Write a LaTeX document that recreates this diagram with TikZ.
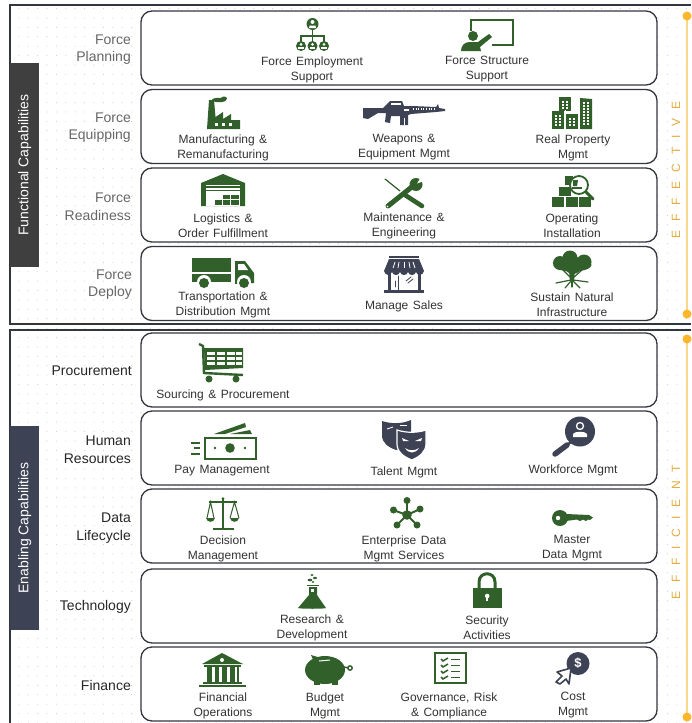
\documentclass[tikz,border=0pt]{standalone}
\usepackage{fontspec}
\setmainfont{Liberation Sans}
\usetikzlibrary{patterns.meta}
\definecolor{capgreen}{HTML}{31602B}
\definecolor{capslate}{HTML}{3D4354}
\definecolor{capbar}{HTML}{3F3F3F}
\definecolor{capline}{HTML}{33363E}
\definecolor{capgold}{HTML}{FBB62C}
\definecolor{capgoldtext}{HTML}{E3AC3E}
\definecolor{capgoldline}{HTML}{FAD78F}
\tikzset{
  capbox/.style={draw=capline, line width=1.3pt, rounded corners=11pt, fill=white, minimum width=516pt, minimum height=74pt, inner sep=0pt},
  caplabel/.style={font=\fontsize{12}{15}\selectfont, align=center, text=black!80, inner sep=0pt, yshift=-1pt, execute at begin node={\spaceskip=4.5pt\relax}},
  toprow/.style={font=\fontsize{14}{17.5}\selectfont, align=right, anchor=east, text=black!60, inner sep=0pt, yshift=-1.2pt},
  lowrow/.style={toprow, text=black!85},
  sidebar/.style={minimum width=29pt, minimum height=204pt, inner sep=0pt, text=white, font=\fontsize{14}{17}\selectfont},
  sideword/.style={rotate=90, text=capgoldtext, font=\fontsize{12}{13}\selectfont, inner sep=0pt},
  golddot/.style={circle, fill=capgold, minimum size=9pt, inner sep=0pt},
  grn/.style={fill=capgreen, draw=none},
  slt/.style={fill=capslate, draw=none},
  gline/.style={draw=capgreen, line cap=round},
  sline/.style={draw=capslate, line cap=round},
  wht/.style={fill=white, draw=none},
  wline/.style={draw=white}
}
\newcommand{\capperson}[3]{
  \fill[#3] (#1,#2) circle (5);
  \fill[white] (#1,#2-1.6) circle (1.5);
  \fill[white] (#1-2.6,#2+2.6) rectangle (#1+2.6,#2+0.6);
}
\begin{document}
\begin{tikzpicture}[x=1pt,y=-1pt]
  \useasboundingbox (0,0) rectangle (691,723);

  % backdrop and the two frames
  \fill[pattern={Dots[distance=9.4pt,radius=0.55pt]}, pattern color=black!20] (10,5) rectangle (691,723);
  \draw[capline, line width=1.6pt] (691,5) -- (10,5) -- (10,324) -- (691,324);
  \draw[capline, line width=1.6pt] (691,330) -- (10,330) -- (10,723);

  % side bars
  \node[sidebar, fill=capbar, anchor=north west] (functionalbar) at (10,63) {};
  \node[rotate=90, text=white, font=\fontsize{14}{17}\selectfont, inner sep=0pt] (functionaltext) at (functionalbar.center) {Functional Capabilities};
  \node[sidebar, fill=capslate, anchor=north west] (enablingbar) at (10,426) {};
  \node[rotate=90, text=white, font=\fontsize{14}{17}\selectfont, inner sep=0pt] (enablingtext) at (enablingbar.center) {Enabling Capabilities};

  % capability boxes
  \node[capbox] (planbox) at (399,48) {};
  \node[capbox] (equipbox) at (399,126.5) {};
  \node[capbox] (readybox) at (399,205) {};
  \node[capbox] (deploybox) at (399,283.5) {};
  \node[capbox] (procurebox) at (399,370) {};
  \node[capbox] (humanbox) at (399,448) {};
  \node[capbox] (databox) at (399,526) {};
  \node[capbox] (techbox) at (399,606) {};
  \node[capbox] (financebox) at (399,684) {};

  % row names
  \node[toprow] (planname) at (131,48.5) {Force\\Planning};
  \node[toprow] (equipname) at (131,126.5) {Force\\Equipping};
  \node[toprow] (readyname) at (131,205.5) {Force\\Readiness};
  \node[toprow] (deployname) at (132,283.5) {Force\\Deploy};
  \node[lowrow] (procurename) at (132,370) {Procurement};
  \node[lowrow] (humanname) at (131,448.5) {Human\\Resources};
  \node[lowrow] (dataname) at (131,527) {Data\\Lifecycle};
  \node[lowrow] (techname) at (131,605.5) {Technology};
  \node[lowrow] (financename) at (131,684) {Finance};

  % gold rails
  \draw[capgoldline, line width=1.2pt] (687,16) -- (687,314);
  \draw[capgoldline, line width=1.2pt] (687,339) -- (687,717);
  \node[golddot] (goldtopa) at (687,16) {};
  \node[golddot] (goldbota) at (687,314) {};
  \node[golddot] (goldtopb) at (687,339) {};
  \node[golddot] (goldbotb) at (687,717) {};
  \node[sideword] (effective) at (676,170) {\spaceskip=8.8pt E F F E C T I V E};
  \node[sideword] (efficient) at (676,532) {\spaceskip=9pt E F F I C I E N T};

  % texts of the capabilities
  \node[caplabel] (employtext) at (312,68.5) {Force Employment\\Support};
  \node[caplabel] (structtext) at (487,68.5) {Force Structure\\Support};
  \node[caplabel] (manutext) at (223,146.5) {Manufacturing \&\\Remanufacturing};
  \node[caplabel] (weapontext) at (404,146.5) {Weapons \&\\Equipment Mgmt};
  \node[caplabel] (realtext) at (573,146.5) {Real Property\\Mgmt};
  \node[caplabel] (logistext) at (223,225) {Logistics \&\\Order Fulfillment};
  \node[caplabel] (mainttext) at (404,225) {Maintenance \&\\Engineering};
  \node[caplabel] (opertext) at (572,225) {Operating\\Installation};
  \node[caplabel] (transtext) at (223,304) {Transportation \&\\Distribution Mgmt};
  \node[caplabel] (salestext) at (404,305.5) {Manage Sales};
  \node[caplabel] (naturetext) at (572,304) {Sustain Natural\\Infrastructure};
  \node[caplabel] (sourcetext) at (223,394.5) {Sourcing \& Procurement};
  \node[caplabel] (paytext) at (222,470) {Pay Management};
  \node[caplabel] (talenttext) at (404,471) {Talent Mgmt};
  \node[caplabel] (forcetext) at (573,469.5) {Workforce Mgmt};
  \node[caplabel] (decisiontext) at (223,547.5) {Decision\\Management};
  \node[caplabel] (entertext) at (404,547.5) {Enterprise Data\\Mgmt Services};
  \node[caplabel] (mastertext) at (572,547.5) {Master\\Data Mgmt};
  \node[caplabel] (researchtext) at (312,626.5) {Research \&\\Development};
  \node[caplabel] (securetext) at (487,626.5) {Security\\Activities};
  \node[caplabel] (fintext) at (223,704.5) {Financial\\Operations};
  \node[caplabel] (budgettext) at (325,704.5) {Budget\\Mgmt};
  \node[caplabel] (govtext) at (449,704.5) {Governance, Risk\\\& Compliance};
  \node[caplabel] (costtext) at (573,704.5) {Cost\\Mgmt};

  % org chart
  \begin{scope}[shift={(296,18)}]
  \fill[grn] (16.5,6) circle (6);
  \fill[white] (16.5,4) circle (2);
  \fill[white] (13,10) -- (13.5,7.5) -- (19.5,7.5) -- (20,10) -- cycle;
  \draw[gline, line width=1.5pt] (16.5,12) -- (16.5,24);
  \draw[gline, line width=1.5pt] (5,23) -- (5,18) -- (28,18) -- (28,23);
  \capperson{5}{28}{capgreen}
  \capperson{16.5}{28}{capgreen}
  \capperson{28}{28}{capgreen}
  \end{scope}

  % board with speaker
  \begin{scope}[shift={(470,19)}]
  \draw[gline, line width=2.8pt, line cap=butt] (1,12) -- (1,1) -- (43,1) -- (43,26) -- (22,26);
  \fill[grn] (3,17) circle (5);
  \fill[grn] (-9,32) .. controls (-9,26) and (-5,23) .. (0,23) -- (8,23) -- (19,15) -- (22,18) -- (10,28) -- (11,32) -- cycle;
  \end{scope}

  % factory
  \begin{scope}[shift={(207,98)}]
  \fill[grn] (0,31) -- (2,2) -- (7,2) -- (8.5,19) -- (16,14) -- (16,21) -- (24,16) -- (24,22) -- (33,22) -- (33,31) -- cycle;
  \fill[grn] (12,2) ellipse (7 and 2.2);
  \fill[grn] (17,0.5) ellipse (3 and 2);
  \draw[white, line width=2.4pt, dash pattern=on 3pt off 4pt] (8,26.5) -- (28,26.5);
  \end{scope}

  % rifle
  \begin{scope}[shift={(363,101)}]
  \fill[slt] (0,7) -- (20,7) -- (24,3) -- (27,0) -- (39,0) -- (41,5) -- (49,5) -- (73,6) -- (75,3) -- (76,7) -- (82,8) -- (82,10) -- (73,11) -- (48,13) -- (45,14) -- (45,24) -- (37,24) -- (37,15) -- (28,15) -- (27,22) -- (22,21) -- (23,12) -- (15,12) -- (5,18) -- (0,17) -- cycle;
  \fill[white] (28,2) rectangle (38,4);
  \draw[white, line width=1.6pt, dash pattern=on 1pt off 1.6pt] (50,8) -- (72,8);
  \draw[white, line width=0.6pt] (41,17) -- (41,24);
  \fill[white] (41,8) rectangle (46,10);
  \end{scope}

  % city blocks
  \begin{scope}[shift={(552,97)}]
  \fill[grn] (7,0) rectangle (19,14);
  \fill[grn] (0,14) rectangle (12,32);
  \fill[grn] (14,17) rectangle (26,32);
  \draw[white, line width=1pt] (13,13) -- (13,32);
  \draw[white, line width=1pt] (12,16.5) -- (27,16.5);
  \fill[grn] (28,1) -- (40,2) -- (40,32) -- (28,32) -- cycle;
  \draw[white, line width=1.5pt, dash pattern=on 1.5pt off 1.5pt] (11,4) -- (11,12);
  \draw[white, line width=1.5pt, dash pattern=on 1.5pt off 1.5pt] (15,4) -- (15,12);
  \draw[white, line width=1.5pt, dash pattern=on 1.5pt off 1.5pt] (4,18) -- (4,29);
  \draw[white, line width=1.5pt, dash pattern=on 1.5pt off 1.5pt] (8,18) -- (8,29);
  \draw[white, line width=1.5pt, dash pattern=on 1.5pt off 1.5pt] (18,21) -- (18,29);
  \draw[white, line width=1.5pt, dash pattern=on 1.5pt off 1.5pt] (22,21) -- (22,29);
  \draw[white, line width=1.5pt, dash pattern=on 1.5pt off 1.5pt] (32,5) -- (32,29);
  \draw[white, line width=1.5pt, dash pattern=on 1.5pt off 1.5pt] (36,5) -- (36,29);
  \end{scope}

  % warehouse
  \begin{scope}[shift={(201,174)}]
  \fill[grn] (0,9) -- (22,0) -- (44,9) -- (44,32) -- (0,32) -- cycle;
  \fill[white] (5,11) rectangle (39,32);
  \fill[grn] (5,12) rectangle (39,13.5);
  \fill[grn] (5,16) rectangle (39,17);
  \fill[grn] (14,26) rectangle (21,31);
  \fill[grn] (22,26) rectangle (29,31);
  \fill[grn] (30,26) rectangle (38,31);
  \fill[grn] (22,21) rectangle (29,25);
  \fill[grn] (30,21) rectangle (38,25);
  \end{scope}

  % wrench and screwdriver
  \begin{scope}[shift={(385,178)}]
  \draw[gline, line width=1.2pt] (0,1) -- (20,17);
  \draw[gline, line width=4.6pt] (20,17) -- (37,28);
  \draw[wline, line width=6pt] (21,11) -- (12,21);
  \draw[gline, line width=5pt] (3,28) -- (28,8);
  \fill[grn] (31,6.5) circle (6.5);
  \fill[white] (32,5.5) -- (36,-1) -- (39,0) -- (39,3) -- cycle;
  \fill[white] (2.5,28.5) circle (0.8);
  \end{scope}

  % boxes under a lens
  \begin{scope}[shift={(551,175)}]
  \fill[grn] (1,22) rectangle (13,32);
  \fill[grn] (15,22) rectangle (27,32);
  \fill[grn] (28,22) rectangle (40,32);
  \fill[grn] (8,12) rectangle (20,21);
  \fill[grn] (14,1) rectangle (22,10);
  \draw[gline, line width=3pt] (35,17) -- (42,24);
  \draw[capgreen, line width=1.8pt, fill=white] (28,10) circle (9);
  \fill[grn] (21,12) rectangle (31,14);
  \fill[grn] (22,5) -- (27,5) -- (26,11) -- (22,11) -- cycle;
  \end{scope}

  % truck
  \begin{scope}[shift={(192,258)}]
  \fill[grn] (0,0) rectangle (39,14);
  \fill[grn] (0,16) rectangle (39,24);
  \fill[grn] (43,3) -- (53,3) -- (62,15) -- (62,25) -- (43,26) -- cycle;
  \fill[white] (46,6) -- (52,6) -- (56,12) -- (46,12) -- cycle;
  \fill[white] (12,24) circle (7);
  \fill[white] (52,24) circle (7);
  \fill[grn] (12,25) circle (5);
  \fill[grn] (52,25) circle (5);
  \end{scope}

  % shop
  \begin{scope}[shift={(384,256)}]
  \fill[slt] (5,0) rectangle (35,2);
  \fill[slt] (5,3) -- (35,3) -- (40,15) .. controls (39,20) and (33,20) .. (32,16) .. controls (31,20) and (25,20) .. (24,16) .. controls (23,20) and (17,20) .. (16,16) .. controls (15,20) and (9,20) .. (8,16) .. controls (7,20) and (1,20) .. (0,15) -- cycle;
  \draw[wline, line width=0.8pt] (9,12) -- (11,6);
  \draw[wline, line width=0.8pt] (14,12) -- (15,6);
  \draw[wline, line width=0.8pt] (20,12) -- (20,6);
  \draw[wline, line width=0.8pt] (26,12) -- (25,6);
  \draw[wline, line width=0.8pt] (31,12) -- (29,6);
  \fill[slt] (4,17) rectangle (7,34);
  \fill[slt] (34,17) rectangle (37,34);
  \fill[slt] (0,34) rectangle (40,37);
  \draw[sline, line width=1pt] (14,20) -- (14,34);
  \draw[sline, line width=0.8pt] (11,25) -- (11,31);
  \draw[sline, line width=0.8pt] (22,25) -- (27,21);
  \draw[sline, line width=0.8pt] (24,27) -- (29,23);
  \end{scope}

  % tree
  \begin{scope}[shift={(553,251)}]
  \fill[grn] (17,7) circle (7.5);
  \fill[grn] (7,12) circle (7);
  \fill[grn] (31,11) circle (7.5);
  \fill[grn] (20,14) circle (9);
  \fill[grn] (19.5,14) ellipse (19 and 6.5);
  \fill[grn] (16,20) -- (22,20) -- (21,30) -- (17,30) -- cycle;
  \draw[gline, line width=1.2pt] (10,19) -- (18,27);
  \draw[gline, line width=1.2pt] (29,19) -- (20,27);
  \draw[gline, line width=1.2pt] (18,29) -- (3,32);
  \draw[gline, line width=1.2pt] (20,29) -- (35,31);
  \draw[gline, line width=1.2pt] (18,30) -- (12,37);
  \draw[gline, line width=1.2pt] (20,30) -- (27,37);
  \draw[gline, line width=1.2pt] (19,30) -- (19,36);
  \end{scope}

  % cart
  \begin{scope}[shift={(199,343)}]
  \draw[capgreen, line width=2.4pt] (0,1) -- (4,3) -- (5,30) -- (44,32);
  \fill[grn] (5,5) -- (44,5) -- (44,25) -- (6,27) -- cycle;
  \draw[white, line width=3.2pt, dash pattern=on 8pt off 1.8pt] (8,10.5) -- (43,10.5);
  \draw[white, line width=3.2pt, dash pattern=on 8pt off 1.8pt] (8,15.5) -- (43,15.5);
  \draw[white, line width=3.2pt, dash pattern=on 8pt off 1.8pt] (8,20.5) -- (43,20.5);
  \fill[grn] (10,36) circle (3.5);
  \fill[grn] (37,36) circle (3.5);
  \end{scope}

  % banknotes
  \begin{scope}[shift={(191,423)}]
  \fill[grn] (23,11) -- (54,0) -- (55,4) -- (34,11) -- cycle;
  \fill[grn] (39,11) -- (59,7) -- (61,11) -- cycle;
  \draw[capgreen, line width=2.8pt] (14,15) rectangle (65,36);
  \fill[grn] (39,25) circle (4.8);
  \fill[grn] (24,25) circle (1.3);
  \fill[grn] (54,25) circle (1.3);
  \draw[capgreen, line width=2pt] (0,20) -- (9,20);
  \draw[capgreen, line width=2pt] (3,25) -- (9,25);
  \draw[capgreen, line width=2pt] (0,31) -- (9,31);
  \end{scope}

  % masks
  \begin{scope}[shift={(382,419)}]
  \fill[slt] (0,2) .. controls (9,5) and (20,5) .. (29,1) -- (29,18) .. controls (29,26) and (20,30) .. (14,31) .. controls (6,28) and (0,24) .. (0,16) -- cycle;
  \draw[wline, line width=0.9pt] (5,10) -- (11,8);
  \draw[wline, line width=0.9pt] (18,6) -- (25,6);
  \fill[slt, draw=white, line width=1.2pt] (15,11) .. controls (24,14) and (35,14) .. (44,11) -- (44,25) .. controls (44,33) and (37,38) .. (30,41) .. controls (22,38) and (15,33) .. (15,25) -- cycle;
  \fill[white] (20,19) -- (27,22) -- (21,22) -- cycle;
  \fill[white] (40,19) -- (33,22) -- (39,22) -- cycle;
  \fill[white] (23,29) .. controls (27,32) and (33,32) .. (37,29) .. controls (33,35) and (27,35) .. (23,29) -- cycle;
  \end{scope}

  % lens with person
  \begin{scope}[shift={(552,417)}]
  \draw[sline, line width=5.5pt] (3,37) -- (15,28);
  \draw[sline, line width=2.4pt] (15,28) -- (19,25);
  \fill[slt] (28,14.5) circle (15);
  \draw[white, line width=1.3pt] (28,9) circle (3.5);
  \fill[white] (21,20) -- (21,17) .. controls (22,14) and (34,14) .. (35,17) -- (35,20) -- cycle;
  \end{scope}

  % scales
  \begin{scope}[shift={(206,497)}]
  \fill[grn] (17,1.5) circle (1.5);
  \draw[capgreen, line width=2pt] (17,1) -- (17,31);
  \draw[capgreen, line width=2.6pt] (7,32) -- (28,32);
  \draw[capgreen, line width=1.8pt] (3,5) -- (31,5);
  \draw[capgreen, line width=1pt] (1,21) -- (4.5,5) -- (8,21);
  \draw[capgreen, line width=1pt] (24,21) -- (28.5,5) -- (33,21);
  \fill[grn] (0,21) .. controls (1,26) and (8,26) .. (9,21) -- cycle;
  \fill[grn] (24,21) .. controls (25,26) and (32,26) .. (33,21) -- cycle;
  \end{scope}

  % network
  \begin{scope}[shift={(390,497)}]
  \draw[capgreen, line width=2pt] (17,3) -- (17,18);
  \draw[capgreen, line width=2pt] (3,13) -- (17,18);
  \draw[capgreen, line width=2pt] (30,12) -- (17,18);
  \draw[capgreen, line width=2pt] (7,28) -- (17,18);
  \draw[capgreen, line width=2pt] (27,28) -- (17,18);
  \fill[grn] (17,18) circle (4.8);
  \fill[grn] (17,3.5) circle (3.5);
  \fill[grn] (3.5,13) circle (3.5);
  \fill[grn] (30,12) circle (3.5);
  \fill[grn] (7,28) circle (3.5);
  \fill[grn] (27,28) circle (3.5);
  \end{scope}

  % key
  \begin{scope}[shift={(552,509)}]
  \fill[grn] (8,9) ellipse (8 and 8);
  \fill[grn] (14,5) -- (37,6) -- (41,8.5) -- (38,11) -- (36,10.5) -- (34,12) -- (31,10.5) -- (28,12) -- (25,10.5) -- (14,12) -- cycle;
  \fill[white] (6,9) circle (2.2);
  \end{scope}

  % flask
  \begin{scope}[shift={(298,574)}]
  \draw[capgreen, line width=1.8pt] (9,11.5) -- (21,11.5);
  \fill[grn] (11,13) -- (19,13) -- (19,21) -- (28,34) .. controls (28,35) and (1,35) .. (0,34) -- (11,21) -- cycle;
  \fill[white] (13,15) rectangle (16,18);
  \fill[grn] (12,6) ellipse (2.4 and 1.3);
  \fill[grn] (17,4) ellipse (2 and 1.2);
  \fill[grn] (14,1) ellipse (1.6 and 1);
  \fill[grn] (15,8) ellipse (1.3 and 1);
  \end{scope}

  % lock
  \begin{scope}[shift={(473,573)}]
  \draw[capgreen, line width=3pt] (6,15) -- (6,9) .. controls (6,-2) and (22,-2) .. (22,9) -- (22,15);
  \fill[grn] (0,15) rectangle (28.5,34.5);
  \fill[white] (14.2,23) circle (2.3);
  \fill[white] (13.2,23) rectangle (15.2,28);
  \end{scope}

  % bank
  \begin{scope}[shift={(199,653)}]
  \fill[grn] (23,0) -- (44,11) -- (3,11) -- cycle;
  \fill[white] (23,7) circle (2);
  \fill[grn] (5,11.5) rectangle (42,14);
  \draw[capgreen, line width=15pt, dash pattern=on 4.8pt off 2.8pt] (8,21.5) -- (40,21.5);
  \fill[grn] (4,29) rectangle (43,31);
  \fill[grn] (0,31.5) rectangle (47,34);
  \end{scope}

  % piggy bank
  \begin{scope}[shift={(305,655)}]
  \fill[grn] (20,15) ellipse (20 and 14);
  \fill[grn] (6,0) -- (16,3) -- (10,9) -- cycle;
  \fill[grn] (9,22) rectangle (15,30);
  \fill[grn] (27,22) rectangle (33,30);
  \draw[capgreen, line width=1.4pt] (39,12) -- (44,13);
  \draw[capgreen, line width=1.4pt] (45,13) circle (2.2);
  \draw[wline, line width=1pt] (14,6) -- (25,5);
  \end{scope}

  % checklist
  \begin{scope}[shift={(434,652)}]
  \draw[capgreen, line width=2.6pt] (1,1) rectangle (32,31);
  \draw[capgreen, line width=1.5pt] (7,7) -- (9,9) -- (14,6);
  \draw[capgreen, line width=1.5pt] (7,13) -- (9,15) -- (14,12);
  \draw[capgreen, line width=1.5pt] (7,19) -- (9,21) -- (14,18);
  \draw[capgreen, line width=1.5pt] (7,25) -- (9,27) -- (14,24);
  \draw[capgreen, line width=1.5pt] (17,7.5) -- (26,7.5);
  \draw[capgreen, line width=1.5pt] (17,13.5) -- (26,13.5);
  \draw[capgreen, line width=1.5pt] (17,19.5) -- (26,19.5);
  \draw[capgreen, line width=1.5pt] (17,25.5) -- (26,25.5);
  \end{scope}

  % cost pointer
  \begin{scope}[shift={(556,653)}]
  \fill[slt] (22,10.5) circle (11.5);
  \node[text=white, font=\bfseries\fontsize{13}{13}\selectfont, inner sep=0pt] (dollar) at (22,10.5) {\$};
  \draw[sline, line width=1.6pt, line join=round, fill=white] (15,15) -- (1,19) -- (6,23) -- (0,29) -- (4,31) -- (10,26) -- (13,31) -- cycle;
  \end{scope}

\end{tikzpicture}
\end{document}
